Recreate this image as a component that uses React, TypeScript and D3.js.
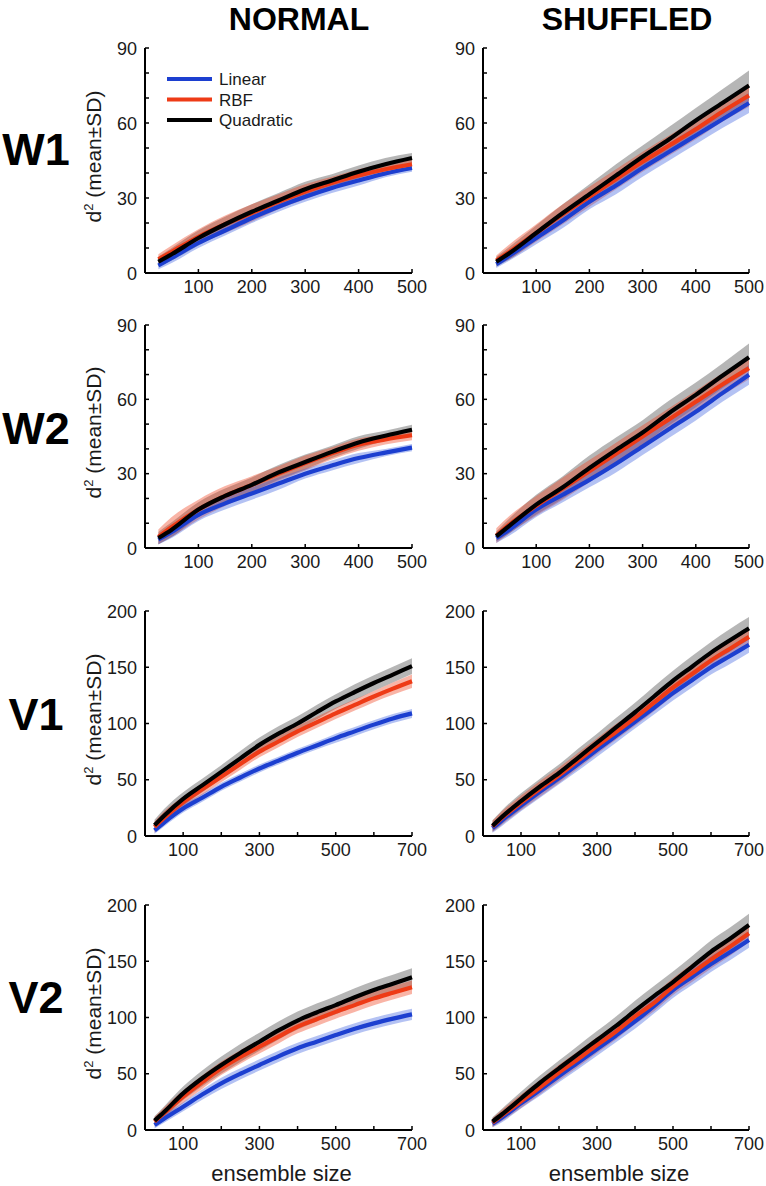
import React from "react";
import * as d3 from "d3";

// ---------- data ----------
const W_X = [25, 50, 100, 150, 200, 250, 300, 350, 400, 450, 500];
const V_X = [25, 50, 100, 150, 200, 250, 300, 350, 400, 450, 500, 550, 600, 650, 700];

const W_Y_TICKS = [0, 10, 20, 30, 40, 50, 60, 70, 80, 90];
const W_Y_LABELS = [0, 30, 60, 90];
const V_Y_TICKS = [0, 50, 100, 150, 200];
const V_Y_LABELS = [0, 50, 100, 150, 200];
const W_X_TICKS = [100, 200, 300, 400, 500];
const W_X_LABELS = [100, 200, 300, 400, 500];
const V_X_TICKS = [100, 200, 300, 400, 500, 600, 700];
const V_X_LABELS = [100, 300, 500, 700];

const COLUMN_TITLES = ["NORMAL", "SHUFFLED"];
const ROW_LABELS = ["W1", "W2", "V1", "V2"];
const SERIES_NAMES = ["Linear", "RBF", "Quadratic"];

// W1 normal
const W1N_LIN = [3, 6, 12, 17, 22, 26.5, 30.5, 34, 37, 39.8, 42];
const W1N_LIN_SD = [1.5, 2, 2, 2, 2, 2, 2, 2, 2, 1.5, 1.5];
const W1N_RBF = [5.5, 8.5, 14.5, 19.5, 24, 28.5, 32.5, 36, 39, 41.5, 43.5];
const W1N_RBF_SD = [2, 2.5, 3, 3.5, 3.5, 3, 3, 2.5, 2.5, 2.5, 2];
const W1N_QUAD = [4.5, 7.5, 14, 19.5, 24.5, 29, 33.5, 37, 40.5, 43.5, 46];
const W1N_QUAD_SD = [2, 2.5, 3, 3, 3, 3, 3, 2.5, 2.5, 2.5, 2];
// W1 shuffled
const W1S_LIN = [3.5, 7, 14, 21, 28.5, 35, 42, 48.5, 55, 61.5, 68];
const W1S_LIN_SD = [1.5, 2, 2.5, 3, 3, 3.5, 3.5, 3.5, 3.5, 3.5, 4];
const W1S_RBF = [5, 8.5, 16, 23.5, 30.5, 37.5, 44.5, 51, 57.5, 64.5, 71];
const W1S_RBF_SD = [2, 3, 3.5, 4, 4, 4, 4, 4, 4, 4, 4.5];
const W1S_QUAD = [4.5, 8, 16, 24, 31.5, 39, 46.5, 53.5, 61, 68, 75];
const W1S_QUAD_SD = [2, 2.5, 3, 3.5, 4, 4.5, 4.5, 5, 5, 5.5, 6];
// W2 normal
const W2N_LIN = [3.4, 6.5, 13.4, 18, 22, 26, 30, 33.3, 36.3, 38.5, 40.5];
const W2N_LIN_SD = [2, 2.5, 2.5, 2.5, 2.5, 2.5, 2, 2, 2, 1.5, 1.5];
const W2N_RBF = [4.5, 8.5, 15.5, 21, 25.5, 30, 34.3, 38.2, 41.7, 43.8, 45.5];
const W2N_RBF_SD = [3, 4, 4, 4, 3.5, 3, 3, 2.5, 2.5, 2, 2];
const W2N_QUAD = [4, 7.4, 15.5, 21, 25.5, 30.5, 34.7, 38.8, 42.6, 45.3, 47.7];
const W2N_QUAD_SD = [2.5, 3, 3, 3, 3, 3, 3, 2.5, 2.5, 2, 2];
// W2 shuffled
const W2S_LIN = [4, 7.5, 15.5, 21.5, 27.5, 34, 41, 48, 55, 62.5, 69.9];
const W2S_LIN_SD = [2, 2.5, 3, 3, 3, 3.5, 3.5, 3.5, 3.5, 3.5, 4];
const W2S_RBF = [5, 9.5, 17, 24, 31, 38, 45, 52, 59, 66, 72.6];
const W2S_RBF_SD = [3, 3.5, 4, 4.5, 4.5, 4.5, 4.5, 4.5, 4.5, 4.5, 4.5];
const W2S_QUAD = [4.7, 9, 17.5, 24.5, 32.3, 39.6, 46.6, 54.5, 61.8, 69.5, 77];
const W2S_QUAD_SD = [2, 3, 4, 4.5, 5, 5, 5, 5, 5, 5, 5.5];
// V1 normal
const V1N_LIN = [5, 12, 24.4, 34, 43.75, 52, 60, 67, 74, 80.5, 87, 93, 99, 104.5, 109];
const V1N_LIN_SD = [3, 3.5, 3.5, 3.5, 3.5, 3.5, 3.5, 3.5, 3.5, 3.5, 4, 4, 4, 4, 4];
const V1N_RBF = [8, 16, 30, 41.5, 52.7, 64, 75, 84, 93, 101, 109, 116.5, 124, 131, 137.5];
const V1N_RBF_SD = [5, 6, 5, 5, 5, 5, 5, 5, 5, 5, 5, 5, 5, 5.5, 6];
const V1N_QUAD = [9.5, 18, 33, 45, 57, 69, 81, 91, 100, 110, 119.6, 128, 136, 143.5, 151];
const V1N_QUAD_SD = [5, 6, 6, 6, 6, 6.5, 6.5, 6.5, 6.5, 6.5, 6.5, 7, 7, 7, 7];
// V1 shuffled
const V1S_LIN = [7, 14, 27, 39.5, 51.5, 64, 76.5, 89, 101.5, 114, 127, 138.5, 150, 160, 170];
const V1S_LIN_SD = [4, 5, 5, 5.5, 5.5, 6, 6, 6, 6, 6, 6.5, 6.5, 6.5, 7, 7];
const V1S_RBF = [8.5, 16, 29.5, 42, 54, 67, 80, 92.5, 105, 118.5, 132, 144, 156, 166.5, 177];
const V1S_RBF_SD = [5, 6, 6.5, 7, 7, 7, 7, 7, 7, 7.5, 7.5, 7.5, 7.5, 8, 8];
const V1S_QUAD = [9, 17, 31, 44, 56, 69.5, 83, 96.5, 110, 124, 138, 150.5, 163, 174, 184.6];
const V1S_QUAD_SD = [5, 6, 7, 7, 7.5, 8, 8, 8.5, 8.5, 9, 9, 9.5, 9.5, 10, 10];
// V2 normal
const V2N_LIN = [4.4, 10, 20.7, 31.5, 41.5, 50, 57.8, 65.5, 72.6, 78.5, 84.4, 90, 94.8, 99, 102.8];
const V2N_LIN_SD = [3, 3.5, 4, 4.5, 5, 5, 5, 5, 5, 5, 5, 5, 5, 5, 5];
const V2N_RBF = [7.5, 15, 29.6, 42.5, 54.8, 65, 74, 83, 91.9, 98.5, 105, 111, 117, 122, 126.8];
const V2N_RBF_SD = [4, 5, 5.5, 6, 6, 6, 6, 6, 6, 6, 6, 6, 6, 6, 6];
const V2N_QUAD = [8.3, 16, 32.6, 46, 57.8, 68.5, 78.5, 88.5, 97.3, 104.5, 111, 118, 124.4, 130, 135.7];
const V2N_QUAD_SD = [4, 5, 6, 7, 7.5, 8, 8, 8, 8, 8, 8, 8, 8, 8, 8];
// V2 shuffled
const V2S_LIN = [5.5, 11, 23.7, 35.5, 48, 60, 72, 84, 96.5, 110, 124.4, 136, 147.5, 158, 168.9];
const V2S_LIN_SD = [3, 4, 4.5, 5, 5.5, 6, 6, 6, 6.5, 6.5, 7, 7, 7, 7, 7];
const V2S_RBF = [6.5, 13, 25.5, 38, 51, 63, 75.5, 87.5, 101, 113, 127.4, 139.5, 151.5, 163, 174.8];
const V2S_RBF_SD = [4, 5, 6, 6.5, 7, 7, 7, 7, 7, 7.5, 7.5, 8, 8, 8, 8];
const V2S_QUAD = [7.4, 14, 28, 42, 54.8, 67.5, 80, 92.5, 106, 119, 131.5, 145, 158.5, 170, 182.2];
const V2S_QUAD_SD = [4, 5, 6, 6.5, 7, 7.5, 8, 8.5, 9, 9, 9.5, 9.5, 10, 10, 10];

// ---------- styling ----------
const FONT = "'Liberation Sans', Arial, Helvetica, sans-serif";
const LINE_COLORS = ["#1c3fd0", "#ee3b16", "#000000"];
const BAND_COLORS = ["rgba(58,95,224,0.38)", "rgba(238,59,22,0.38)", "rgba(110,110,110,0.5)"];

const ROWS = [
  { top: 48, bottom: 273, labelY: 165 },
  { top: 325, bottom: 548, labelY: 444 },
  { top: 611, bottom: 836, labelY: 730 },
  { top: 905, bottom: 1130, labelY: 1013 },
];
const COLS = [
  { left: 145, right: 412, titleX: 299 },
  { left: 483, right: 749, titleX: 627 },
];

type Panel = {
  row: number;
  col: number;
  kind: "W" | "V";
  series: { mean: number[]; sd: number[] }[];
};

const PANELS: Panel[] = [
  { row: 0, col: 0, kind: "W", series: [{ mean: W1N_LIN, sd: W1N_LIN_SD }, { mean: W1N_RBF, sd: W1N_RBF_SD }, { mean: W1N_QUAD, sd: W1N_QUAD_SD }] },
  { row: 0, col: 1, kind: "W", series: [{ mean: W1S_LIN, sd: W1S_LIN_SD }, { mean: W1S_RBF, sd: W1S_RBF_SD }, { mean: W1S_QUAD, sd: W1S_QUAD_SD }] },
  { row: 1, col: 0, kind: "W", series: [{ mean: W2N_LIN, sd: W2N_LIN_SD }, { mean: W2N_RBF, sd: W2N_RBF_SD }, { mean: W2N_QUAD, sd: W2N_QUAD_SD }] },
  { row: 1, col: 1, kind: "W", series: [{ mean: W2S_LIN, sd: W2S_LIN_SD }, { mean: W2S_RBF, sd: W2S_RBF_SD }, { mean: W2S_QUAD, sd: W2S_QUAD_SD }] },
  { row: 2, col: 0, kind: "V", series: [{ mean: V1N_LIN, sd: V1N_LIN_SD }, { mean: V1N_RBF, sd: V1N_RBF_SD }, { mean: V1N_QUAD, sd: V1N_QUAD_SD }] },
  { row: 2, col: 1, kind: "V", series: [{ mean: V1S_LIN, sd: V1S_LIN_SD }, { mean: V1S_RBF, sd: V1S_RBF_SD }, { mean: V1S_QUAD, sd: V1S_QUAD_SD }] },
  { row: 3, col: 0, kind: "V", series: [{ mean: V2N_LIN, sd: V2N_LIN_SD }, { mean: V2N_RBF, sd: V2N_RBF_SD }, { mean: V2N_QUAD, sd: V2N_QUAD_SD }] },
  { row: 3, col: 1, kind: "V", series: [{ mean: V2S_LIN, sd: V2S_LIN_SD }, { mean: V2S_RBF, sd: V2S_RBF_SD }, { mean: V2S_QUAD, sd: V2S_QUAD_SD }] },
];

function PanelView({ p }: { p: Panel }) {
  const r = ROWS[p.row];
  const c = COLS[p.col];
  const isW = p.kind === "W";
  const xs = isW ? W_X : V_X;
  const x = d3.scaleLinear().domain([0, isW ? 500 : 700]).range([c.left, c.right]);
  const y = d3.scaleLinear().domain([0, isW ? 90 : 200]).range([r.bottom, r.top]);
  const yTicks = isW ? W_Y_TICKS : V_Y_TICKS;
  const yLabels = isW ? W_Y_LABELS : V_Y_LABELS;
  const xTicks = isW ? W_X_TICKS : V_X_TICKS;
  const xLabels = isW ? W_X_LABELS : V_X_LABELS;

  const line = d3
    .line<number>()
    .x((_, i) => x(xs[i]))
    .y((d) => y(d))
    .curve(d3.curveMonotoneX);

  const bandOrder = [2, 1, 0];
  const lineOrder = [0, 1, 2];

  return (
    <g>
      {bandOrder.map((si) => {
        const s = p.series[si];
        const area = d3
          .area<number>()
          .x((_, i) => x(xs[i]))
          .y0((d, i) => y(d - s.sd[i]))
          .y1((d, i) => y(d + s.sd[i]))
          .curve(d3.curveMonotoneX);
        return <path key={"b" + si} d={area(s.mean) || ""} fill={BAND_COLORS[si]} stroke="none" />;
      })}
      {lineOrder.map((si) => (
        <path
          key={"l" + si}
          d={line(p.series[si].mean) || ""}
          fill="none"
          stroke={LINE_COLORS[si]}
          strokeWidth={4.2}
          strokeLinejoin="round"
        />
      ))}
      {/* axes */}
      <line x1={c.left} x2={c.left} y1={r.top} y2={r.bottom} stroke="#000" strokeWidth={2} />
      <line x1={c.left} x2={c.right} y1={r.bottom} y2={r.bottom} stroke="#000" strokeWidth={2} />
      {yTicks.map((t) => (
        <line key={"yt" + t} x1={c.left} x2={c.left + 4} y1={y(t)} y2={y(t)} stroke="#000" strokeWidth={1.5} />
      ))}
      {xTicks.map((t) => (
        <line key={"xt" + t} x1={x(t)} x2={x(t)} y1={r.bottom} y2={r.bottom - 4} stroke="#000" strokeWidth={1.5} />
      ))}
      {yLabels.map((t) => (
        <text key={"yl" + t} x={c.left - 8} y={y(t) + 6.5} textAnchor="end" fontSize={18} fill="#1a1a1a" fontFamily={FONT}>
          {t}
        </text>
      ))}
      {xLabels.map((t) => (
        <text key={"xl" + t} x={x(t)} y={r.bottom + 20} textAnchor="middle" fontSize={18} fill="#1a1a1a" fontFamily={FONT}>
          {t}
        </text>
      ))}
    </g>
  );
}

export default function App() {
  const W = 766;
  const H = 1186;
  return (
    <svg width={W} height={H} style={{ position: "absolute", left: 0, top: 0, background: "#fff" }}>
      <rect x={0} y={0} width={W} height={H} fill="#fff" />
      {COLUMN_TITLES.map((t, i) => (
        <text key={t} x={COLS[i].titleX} y={30} textAnchor="middle" fontSize={32} fontWeight="bold" fontFamily={FONT}>
          {t}
        </text>
      ))}
      {ROW_LABELS.map((t, i) => (
        <text key={t} x={36} y={ROWS[i].labelY} textAnchor="middle" fontSize={45} fontWeight="bold" fontFamily={FONT}>
          {t}
        </text>
      ))}
      {ROWS.map((r, i) => (
        <text
          key={"yl" + i}
          transform={`translate(101,${(r.top + r.bottom) / 2 - 4}) rotate(-90)`}
          textAnchor="middle"
          fontSize={21}
          fill="#1a1a1a"
          fontFamily={FONT}
        >
          d<tspan fontSize={13} dy={-8}>2</tspan>
          <tspan dy={8}> (mean±SD)</tspan>
        </text>
      ))}
      {COLS.map((c, i) => (
        <text key={"xl" + i} x={(c.left + c.right) / 2 + 3} y={1181} textAnchor="middle" fontSize={22} fill="#1a1a1a" fontFamily={FONT}>
          ensemble size
        </text>
      ))}
      {PANELS.map((p, i) => (
        <PanelView key={i} p={p} />
      ))}
      {/* legend */}
      {SERIES_NAMES.map((n, i) => (
        <g key={n}>
          <line x1={167} x2={212} y1={79 + i * 20.5} y2={79 + i * 20.5} stroke={LINE_COLORS[i]} strokeWidth={4} />
          <text x={219} y={79 + i * 20.5 + 6} fontSize={17} fill="#1a1a1a" fontFamily={FONT}>
            {n}
          </text>
        </g>
      ))}
    </svg>
  );
}
